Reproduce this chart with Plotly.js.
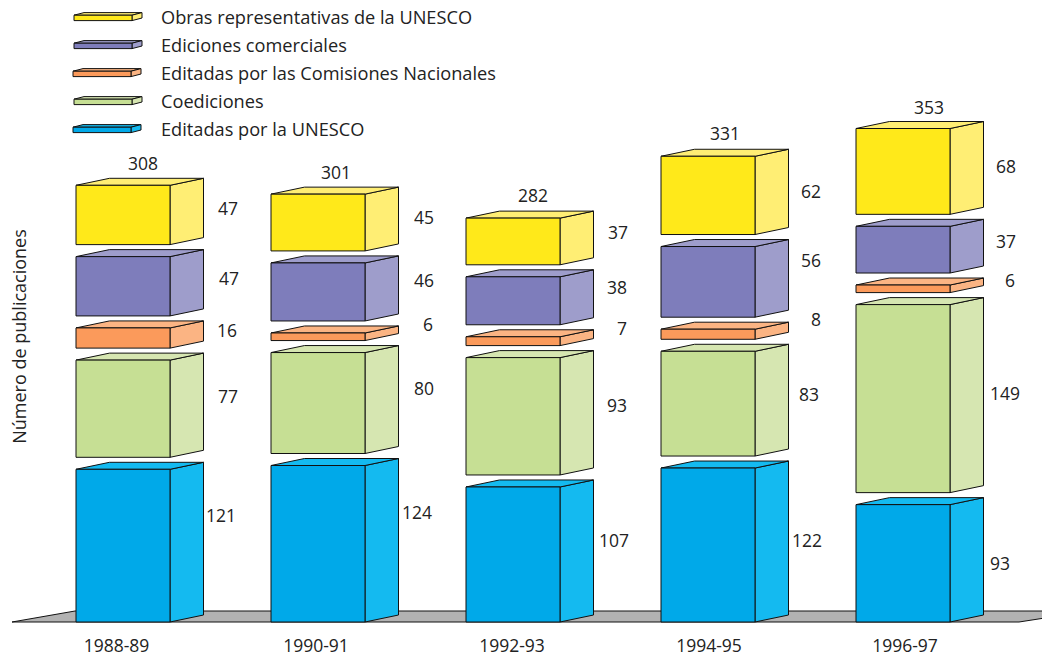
<!DOCTYPE html>
<html><head><meta charset="utf-8">
<script src="https://cdn.plot.ly/plotly-3.0.1.min.js"></script>
<style>html,body{margin:0;padding:0;background:#fff}#c{width:1042px;height:657px}</style>
</head><body><div id="c"></div>
<script>
// ---- data ----
const periods = ['1988-89','1990-91','1992-93','1994-95','1996-97'];
const editadasUnesco = [121,124,107,122,93];
const coediciones = [77,80,93,83,149];
const comisiones = [16,6,7,8,6];
const comerciales = [47,46,38,56,37];
const representativas = [47,45,37,62,68];
const totals = [308,301,282,331,353];
const seriesNames = ['Editadas por la UNESCO','Coediciones','Editadas por las Comisiones Nacionales','Ediciones comerciales','Obras representativas de la UNESCO'];

// ---- styles, bottom of the stack first ----
const frontColors = ['#00A9E9','#C6DF94','#FB9A5B','#7E7DBB','#FFE91A'];
const sideColors  = ['#14BAF0','#D6E6B1','#FBB483','#9E9DCB','#FFEE74'];
const topColors   = ['#14BAF0','#D6E6B1','#FBB483','#9E9DCB','#FFEE74'];
const edge = '#111';
const textColor = '#222';
const fontFamily = '"Open Sans", "Noto Sans", sans-serif';

// ---- layout constants, in pixels ----
const W=1042,H=657,mL=35,mT=43,mB=27;
const plotH=H-mT-mB, plotW=W-mL;
const firstCentre=123, step=195, halfW=47, depthX=33.5, depthY=7, gapPx=12;
const baseY=622, pxPerUnit=1.262;
const xr=[(mL-firstCentre)/step,(W-firstCentre)/step];
const yr=[(baseY-(H-mB))/pxPerUnit,(baseY-mT)/pxPerUnit];
const hw=halfW/step, dx=depthX/step, dy=depthY/pxPerUnit, gap=gapPx/pxPerUnit;
const xPx=px=>(px-firstCentre)/step, yPx=py=>(baseY-py)/pxPerUnit;
const paperX=px=>(px-mL)/plotW, paperY=py=>(H-mB-py)/plotH;

const stack=[editadasUnesco,coediciones,comisiones,comerciales,representativas];
const traces=[];
function poly(name,color,xs,ys){
  traces.push({type:'scatter',mode:'lines',name:name,x:xs,y:ys,fill:'toself',fillcolor:color,
    line:{color:edge,width:1},hoverinfo:'skip',showlegend:false});
}
const bases=periods.map(()=>0);
stack.forEach((vals,s)=>{
  const fx=[],fy=[],sx=[],sy=[],tx=[],ty=[];
  vals.forEach((v,i)=>{
    const b=bases[i], t=b+v, l=i-hw, r=i+hw;
    fx.push(l,r,r,l,l,null); fy.push(b,b,t,t,b,null);
    sx.push(r,r+dx,r+dx,r,r,null); sy.push(b,b+dy,t+dy,t,b,null);
    tx.push(l,r,r+dx,l+dx,l,null); ty.push(t,t,t+dy,t+dy,t,null);
    bases[i]=t+gap;
  });
  poly(seriesNames[s]+' (lado)',sideColors[s],sx,sy);
  poly(seriesNames[s]+' (arriba)',topColors[s],tx,ty);
  poly(seriesNames[s],frontColors[s],fx,fy);
});

// value-label placement in pixels (centre x, centre y), same order as the stack
const labelPos=[
 [[221,515],[417,512],[614,540],[807,540],[1000,563]],
 [[228,396],[424,388],[617,405],[809,394],[1005,393]],
 [[227,330],[428,324],[622,328],[816,319],[1010,280]],
 [[229,278],[424,280],[617,287],[811,260],[1006,241]],
 [[228,208],[424,217],[618,232],[811,191],[1006,166]]
];
const totalPos=[[143,163],[336,172],[533,195],[725,133],[929,107]];
const legendRows=[130,102,74,46,18];
const legendLeft=[73,74,73,74,74];

const font={family:fontFamily,size:17.5,color:textColor};
const bigFont={family:fontFamily,size:18,color:textColor};
const annotations=[];
stack.forEach((vals,s)=>vals.forEach((v,i)=>{
  annotations.push({x:xPx(labelPos[s][i][0]),y:yPx(labelPos[s][i][1]),text:String(v),showarrow:false,font,xanchor:'center',yanchor:'middle'});
}));
totals.forEach((v,i)=>annotations.push({x:xPx(totalPos[i][0]),y:yPx(totalPos[i][1]),text:String(v),showarrow:false,font,xanchor:'center',yanchor:'middle'}));
const shapes=[];
function pshape(pts,color,layer){
  const d=pts.map((p,k)=>(k?'L':'M')+paperX(p[0])+' '+paperY(p[1])).join(' ')+' Z';
  shapes.push({type:'path',xref:'paper',yref:'paper',path:d,fillcolor:color,line:{color:edge,width:1},layer:layer||'above'});
}
pshape([[12,622],[75,611],[1090,611],[1019,622]],'#B2B2B2','below');
seriesNames.forEach((n,s)=>{
  const y=legendRows[s], l=legendLeft[s], r=l+58, b=y+2.6, t=y-2.8;
  pshape([[l,t],[r,t],[r+10,t-2.6],[l+10,t-2.6]],sideColors[s]);
  pshape([[r,b],[r+10,b-2.6],[r+10,t-2.6],[r,t]],sideColors[s]);
  pshape([[l,b],[r,b],[r,t],[l,t]],frontColors[s]);
  annotations.push({xref:'paper',yref:'paper',x:paperX(159),y:paperY(y-1),text:n,showarrow:false,font:{family:fontFamily,size:18.2,color:textColor},xanchor:'left',yanchor:'middle'});
});

const tickLabelX=[116.5,316,512,709,905];
const layout={
  width:W,height:H,margin:{l:mL,r:0,t:mT,b:mB,pad:0},paper_bgcolor:'#fff',plot_bgcolor:'rgba(0,0,0,0)',
  showlegend:false,hovermode:false,
  xaxis:{range:xr,tickmode:'array',tickvals:tickLabelX.map(xPx),ticktext:periods,ticks:'',showgrid:false,zeroline:false,showline:false,
         tickfont:font,ticklabelstandoff:3,fixedrange:true},
  yaxis:{range:yr,showticklabels:false,ticks:'',showgrid:false,zeroline:false,showline:false,fixedrange:true,
         title:{text:'Número de publicaciones',font:bigFont,standoff:2}},
  annotations,shapes
};
Plotly.newPlot('c',traces,layout,{displayModeBar:false,staticPlot:true});
</script></body></html>
